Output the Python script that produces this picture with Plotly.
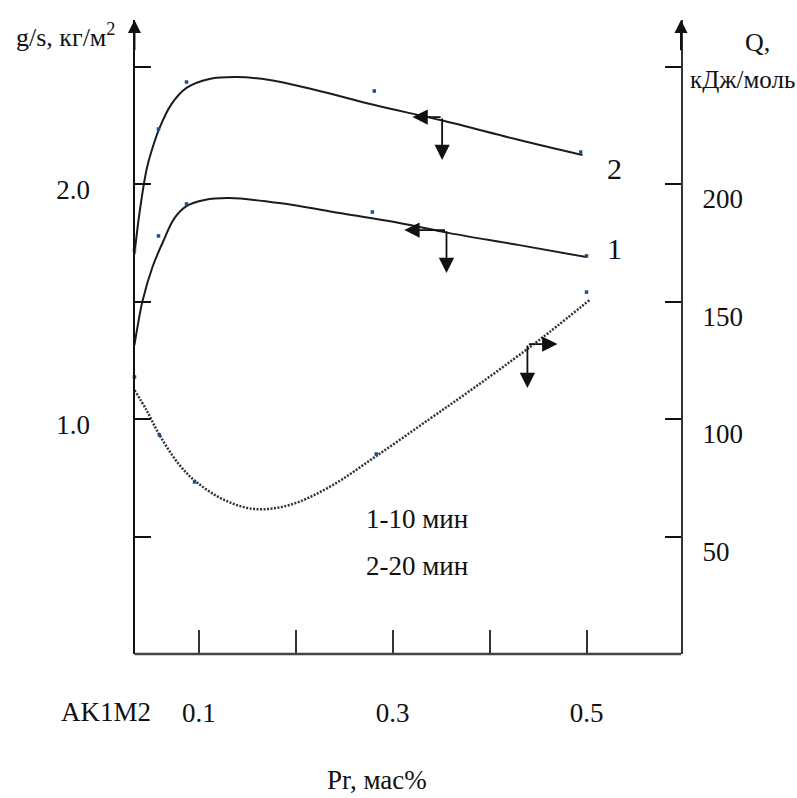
import plotly.graph_objects as go

# ---- data -------------------------------------------------------------
# Pr content, mass %, along the smoothed curves
pr_curve1 = [0.0335, 0.0366, 0.0418, 0.0521, 0.0624, 0.0748, 0.0872, 0.1058,
             0.1316, 0.1832, 0.2451, 0.307, 0.3586, 0.4308, 0.5]
gs_curve1 = [1.315, 1.391, 1.502, 1.647, 1.749, 1.855, 1.906, 1.932,
             1.940, 1.919, 1.877, 1.834, 1.791, 1.740, 1.689]

pr_curve2 = [0.0335, 0.0387, 0.0459, 0.0521, 0.0593, 0.0717, 0.0872, 0.1109,
             0.1388, 0.1729, 0.2245, 0.2812, 0.3514, 0.4308, 0.4959]
gs_curve2 = [1.702, 1.877, 2.060, 2.153, 2.238, 2.340, 2.409, 2.447,
             2.455, 2.443, 2.396, 2.336, 2.270, 2.187, 2.123]

pr_curve_q = [0.0335, 0.0459, 0.0593, 0.080, 0.0975, 0.1264, 0.1574, 0.1935,
              0.2348, 0.2833, 0.338, 0.3793, 0.4236, 0.4618, 0.503]
q_curve = [112.3, 103.8, 93.2, 80.4, 73.2, 65.5, 61.7, 63.4,
           71.1, 84.3, 100.0, 111.9, 125.1, 137.0, 150.6]

# measured points
pr_pts1 = [0.0583, 0.0872, 0.279, 0.5]
gs_pts1 = [1.779, 1.915, 1.881, 1.694]
pr_pts2 = [0.0335, 0.0583, 0.0872, 0.281, 0.494]
gs_pts2 = [1.719, 2.234, 2.434, 2.396, 2.136]
pr_pts_q = [0.0335, 0.0593, 0.0955, 0.283, 0.5]
q_pts = [117.9, 93.2, 73.2, 85.1, 154.0]

# ticks (labelled ticks + unlabelled ones)
x_tick_vals = [0.1, 0.3, 0.5]
x_tick_text = ["0.1", "0.3", "0.5"]
x_minor_vals = [0.2, 0.4]
g_tick_vals = [1.0, 2.0]
g_tick_text = ["1.0", "2.0"]
g_minor_vals = [0.5, 1.5, 2.5]
q_tick_vals = [50, 100, 150, 200]
q_tick_text = ["50", "100", "150", "200"]
q_minor_vals = [250]

# ---- layout constants ---------------------------------------------------
W, H = 797, 798
L, R, T, B = 102, 116, 20, 144
PW, PH = W - L - R, H - T - B
X_MAX = 0.5975          # right end of the Pr axis
Y_AXIS_X = 0.0335       # Pr position of the left (g/s) axis line
G_MAX = 2.698
Q_MAX = 269.8
FONT = "Liberation Serif"
INK = "#111111"


def px(xp, yp):
    """pixel position -> paper coordinates"""
    return (xp - L) / PW, (H - B - yp) / PH


fig = go.Figure()

line_style = dict(color="#1c1c1c", width=2, shape="spline", smoothing=1.0)
fig.add_trace(go.Scatter(x=pr_curve1, y=gs_curve1, mode="lines", line=line_style,
                         hoverinfo="skip"))
fig.add_trace(go.Scatter(x=pr_curve2, y=gs_curve2, mode="lines", line=line_style,
                         hoverinfo="skip"))
fig.add_trace(go.Scatter(x=pr_curve_q, y=q_curve, mode="lines", yaxis="y2",
                         line=dict(color="#333333", width=2.5, dash="2px,1.5px",
                                   shape="spline", smoothing=1.0),
                         hoverinfo="skip"))

dot = dict(size=3.5, color="#1b4f8a", symbol="square")
fig.add_trace(go.Scatter(x=pr_pts1, y=gs_pts1, mode="markers", marker=dot))
fig.add_trace(go.Scatter(x=pr_pts2, y=gs_pts2, mode="markers", marker=dot))
fig.add_trace(go.Scatter(x=pr_pts_q, y=q_pts, mode="markers", marker=dot, yaxis="y2"))

annotations = []

# arrows showing which axis each curve belongs to
curve_arrows = [
    # yref, corner x, corner y, horizontal tip x, vertical tip y
    ("y", 0.351, 2.285, 0.3204, 2.102),
    ("y", 0.3555, 1.804, 0.312, 1.621),
    ("y2", 0.439, 131.9, 0.470, 113.2),
]
arrow_style = dict(showarrow=True, arrowhead=2, arrowsize=1.7, arrowwidth=1.8,
                   arrowcolor=INK, text="", standoff=0, startstandoff=0)
for yref, cx, cy, hx, vy in curve_arrows:
    annotations.append(dict(xref="x", yref=yref, axref="x", ayref=yref,
                            x=hx, y=cy, ax=cx, ay=cy, **arrow_style))
    annotations.append(dict(xref="x", yref=yref, axref="x", ayref=yref,
                            x=cx, y=vy, ax=cx, ay=cy, **arrow_style))

# arrowheads on top of the two vertical axes
axis_arrow = dict(showarrow=True, arrowhead=2, arrowsize=1.3, arrowwidth=2,
                  arrowcolor=INK, text="", standoff=0, startstandoff=0,
                  axref="x")
annotations.append(dict(xref="x", yref="y", ayref="y", x=Y_AXIS_X, y=G_MAX,
                        ax=Y_AXIS_X, ay=G_MAX * 0.95, **axis_arrow))
annotations.append(dict(xref="x", yref="y2", ayref="y2", x=X_MAX, y=Q_MAX,
                        ax=X_MAX, ay=Q_MAX * 0.95, **axis_arrow))


def label(text, xp, yp, size=26, anchor="center"):
    x, y = px(xp, yp)
    annotations.append(dict(text=text, x=x, y=y, xref="paper", yref="paper",
                            xanchor=anchor, yanchor="middle", showarrow=False,
                            font=dict(family=FONT, size=size, color=INK)))


# curve numbers
label("2", 614, 168, size=30)
label("1", 614, 248, size=30)
# exposure times
label("1-10 мин", 417, 519, size=27)
label("2-20 мин", 417, 566, size=27)
# axis titles
label("g/s, кг/м<sup>2</sup>", 14, 36, size=26, anchor="left")
label("Q,", 757, 42, size=26)
label("кДж/моль", 742, 80, size=25)
label("Pr, мас%", 377, 780, size=27)
# base alloy label at Pr = 0
annotations.append(dict(text="AK1M2", x=0, y=0, xref="x", yref="y",
                        xanchor="center", yanchor="middle", yshift=-58,
                        xshift=4, showarrow=False,
                        font=dict(family=FONT, size=27, color=INK)))

# bottom axis line from the g/s axis to the Q axis
shapes = [dict(type="line", xref="paper", yref="paper",
               x0=Y_AXIS_X / X_MAX, x1=1, y0=0, y1=0,
               line=dict(color="#444444", width=2.5))]

tick_font = dict(family=FONT, size=27, color=INK)

fig.update_layout(
    width=W, height=H,
    margin=dict(l=L, r=R, t=T, b=B),
    paper_bgcolor="white", plot_bgcolor="white",
    showlegend=False,
    font=dict(family=FONT, color=INK),
    annotations=annotations,
    shapes=shapes,
    xaxis=dict(range=[0, X_MAX], showline=False, showgrid=False, zeroline=False,
               ticks="inside", ticklen=24, tickwidth=1.5, tickcolor="#333333",
               tickmode="array", tickvals=x_tick_vals, ticktext=x_tick_text,
               tickfont=tick_font, ticklabelstandoff=40,
               minor=dict(tickmode="array", tickvals=x_minor_vals, ticks="inside",
                          ticklen=24, tickwidth=1.5, tickcolor="#333333",
                          showgrid=False)),
    yaxis=dict(range=[0, G_MAX], anchor="free", position=Y_AXIS_X / X_MAX,
               showline=True, linecolor=INK, linewidth=2,
               showgrid=False, zeroline=False,
               ticks="inside", ticklen=16, tickwidth=2, tickcolor=INK,
               tickmode="array", tickvals=g_tick_vals, ticktext=g_tick_text,
               tickfont=tick_font, ticklabelstandoff=38, ticklabelshift=6,
               minor=dict(tickmode="array", tickvals=g_minor_vals, ticks="inside",
                          ticklen=16, tickwidth=2, tickcolor=INK,
                          showgrid=False)),
    yaxis2=dict(range=[0, Q_MAX], overlaying="y", side="right", anchor="x",
                showline=True, linecolor="#333333", linewidth=2,
                showgrid=False, zeroline=False,
                ticks="inside", ticklen=16, tickwidth=2, tickcolor=INK,
                tickmode="array", tickvals=q_tick_vals, ticktext=q_tick_text,
                tickfont=tick_font, ticklabelstandoff=14, ticklabelshift=15,
                minor=dict(tickmode="array", tickvals=q_minor_vals, ticks="inside",
                           ticklen=16, tickwidth=2, tickcolor=INK,
                           showgrid=False)),
)

fig.write_html("out.html")
